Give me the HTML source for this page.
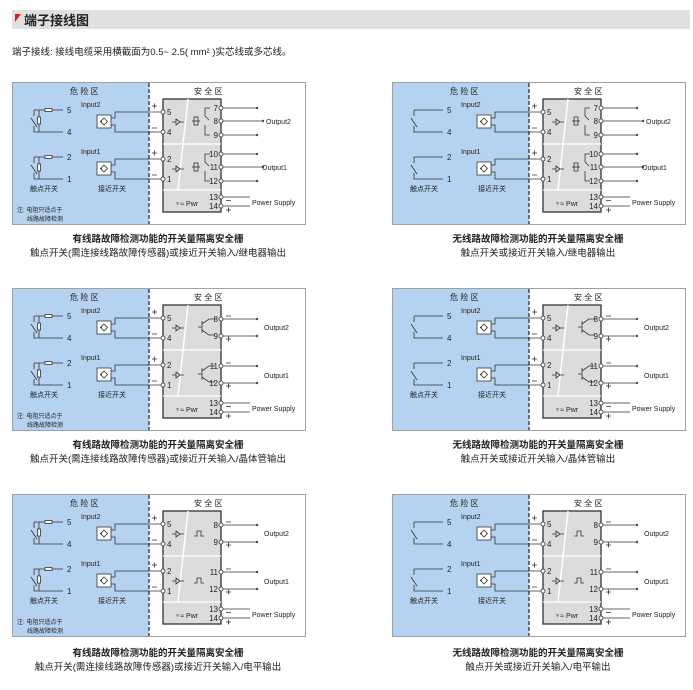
<!DOCTYPE html>
<html><head><meta charset="utf-8"><style>
html,body{margin:0;padding:0;background:#fff;width:693px;height:690px;overflow:hidden}
svg{display:block}
text{font-family:"Liberation Sans","Noto Sans CJK SC",sans-serif;fill:#222}
.s{font-size:7px}
.z{font-size:8px}
.cap1{font-size:9.5px;font-weight:bold;text-anchor:middle}
.cap2{font-size:9.5px;text-anchor:middle}
.n{font-size:8px;text-anchor:end}
</style></head><body>
<svg width="693" height="690" viewBox="0 0 693 690" xmlns="http://www.w3.org/2000/svg">
<defs>
<g id="frame">
<rect x="0.5" y="0.5" width="293" height="142" fill="#fff" stroke="#a0a0a0"/>
<rect x="1" y="1" width="136" height="141" fill="#b5d3f0"/>
<line x1="137" y1="1" x2="137" y2="142" stroke="#222" stroke-width="1.2" stroke-dasharray="4,2"/>
</g>
<g id="mod" fill="none" stroke="#333" stroke-width="0.8">
<rect x="151" y="17" width="58" height="113" fill="#dcdcdc" stroke="#333" stroke-width="1.3"/>
<line x1="151" y1="62" x2="209" y2="62" stroke="#fff" stroke-width="1.2"/>
<line x1="151" y1="108" x2="209" y2="108" stroke="#fff" stroke-width="1.2"/>
<line x1="176" y1="17" x2="166" y2="108" stroke="#fff" stroke-width="1.5"/>
<path d="M99,36 H103 V30 H149 M99,43 H103 V50 H149 M99,83 H103 V77 H149 M99,90 H103 V97 H149"/>
<circle cx="151" cy="30" r="2" fill="#fff"/><circle cx="151" cy="50" r="2" fill="#fff"/>
<circle cx="151" cy="77" r="2" fill="#fff"/><circle cx="151" cy="97" r="2" fill="#fff"/>
<rect x="85" y="33" width="14" height="13" fill="#fff"/><path d="M88,39.5 H90 M92,36 L95.5,39.5 L92,43 L88.5,39.5 Z"/>
<rect x="85" y="80" width="14" height="13" fill="#fff"/><path d="M88,86.5 H90 M92,83 L95.5,86.5 L92,90 L88.5,86.5 Z"/>
<path d="M22,28 H51 M22,28 V34 M19,36 L25,45 M22,44 V50 H51"/>
<path d="M22,75 H51 M22,75 V81 M19,83 L25,92 M22,91 V97 H51"/>
<path d="M140,24 h5 M142.5,21.5 v5 M140,46 h5 M140,71 h5 M142.5,68.5 v5 M140,93 h5"/>
<path d="M160,40 h4 M164,37 l4,3 l-4,3 z M168,40 h4 M160,87 h4 M164,84 l4,3 l-4,3 z M168,87 h4"/>
<circle cx="209" cy="115" r="2" fill="#fff"/><circle cx="209" cy="124" r="2" fill="#fff"/>
<path d="M211,115 H238 M211,124 H238 M214,118.5 h5 M214,128 h5 M216.5,125.5 v5"/>
</g>
<g id="res" fill="#fff" stroke="#333" stroke-width="0.8">
<path d="M27,28 V35 M27,42 V50 M27,75 V82 M27,89 V97" fill="none"/>
<rect x="25.5" y="35" width="3" height="7"/><rect x="33" y="26.5" width="7" height="3"/>
<rect x="25.5" y="82" width="3" height="7"/><rect x="33" y="73.5" width="7" height="3"/>
</g>
<g id="relay" fill="none" stroke="#333" stroke-width="0.8">
<path d="M211,26 H244 M211,39 H250 M211,53 H244 M211,72 H244 M211,85 H250 M211,99 H244"/>
<circle cx="209" cy="26" r="2" fill="#fff"/><circle cx="209" cy="39" r="2" fill="#fff"/><circle cx="209" cy="53" r="2" fill="#fff"/>
<circle cx="209" cy="72" r="2" fill="#fff"/><circle cx="209" cy="85" r="2" fill="#fff"/><circle cx="209" cy="99" r="2" fill="#fff"/>
<circle cx="245" cy="26" r="0.8"/><circle cx="251" cy="39" r="0.8"/><circle cx="245" cy="53" r="0.8"/>
<circle cx="245" cy="72" r="0.8"/><circle cx="251" cy="85" r="0.8"/><circle cx="245" cy="99" r="0.8"/>
<rect x="182" y="35" width="4" height="8"/><path d="M180,39 h8"/>
<path d="M198,26 H193 V34 L197,38 M193,43 V53 H198"/>
<rect x="182" y="81" width="4" height="8"/><path d="M180,85 h8"/>
<path d="M198,72 H193 V80 L197,84 M193,89 V99 H198"/>
</g>
<g id="outs" fill="none" stroke="#333" stroke-width="0.8">
<path d="M211,31 H244 M211,48 H244 M211,78 H244 M211,95 H244"/>
<circle cx="209" cy="31" r="2" fill="#fff"/><circle cx="209" cy="48" r="2" fill="#fff"/>
<circle cx="209" cy="78" r="2" fill="#fff"/><circle cx="209" cy="95" r="2" fill="#fff"/>
<circle cx="245" cy="31" r="0.8"/><circle cx="245" cy="48" r="0.8"/><circle cx="245" cy="78" r="0.8"/><circle cx="245" cy="95" r="0.8"/>
<path d="M214,28 h5 M214,51 h5 M216.5,48.5 v5 M214,75 h5 M214,98 h5 M216.5,95.5 v5"/>
</g>
<g id="trans" fill="none" stroke="#333" stroke-width="0.8">
<path d="M190,33 V45 M190,39 H186 M190,36 L197,31 H203 M190,42 L197,47 H203"/>
<path d="M190,80 V92 M190,86 H186 M190,83 L197,78 H203 M190,89 L197,94 H203"/>
</g>
<g id="lvl" fill="none" stroke="#333" stroke-width="0.8">
<path d="M182,42 H185 V37 H189 V42 H192 M182,89 H185 V84 H189 V89 H192"/>
</g>
</defs>

<rect x="12" y="10" width="678" height="19" fill="#e0e0e0"/>
<polygon points="15,14 21,14 15,22" fill="#e02020"/>
<text x="24" y="25" style="font-size:13px;font-weight:bold">端子接线图</text>
<text x="12" y="55" style="font-size:9.5px">端子接线: 接线电缆采用横截面为0.5~ 2.5( mm² )实芯线或多芯线。</text>

<!-- Panel 1 -->
<g transform="translate(12,82)">
<use href="#frame"/><use href="#mod"/><use href="#res"/><use href="#relay"/>
<text class="z" x="58" y="12">危 险 区</text><text class="z" x="182" y="12">安 全 区</text>
<text class="s" x="69" y="25">Input2</text><text class="s" x="69" y="72">Input1</text>
<text class="z" x="55" y="31">5</text><text class="z" x="55" y="53">4</text><text class="z" x="55" y="78">2</text><text class="z" x="55" y="100">1</text>
<text class="z" x="155" y="33">5</text><text class="z" x="155" y="53">4</text><text class="z" x="155" y="80">2</text><text class="z" x="155" y="100">1</text>
<text class="n" x="206" y="29">7</text><text class="n" x="206" y="42">8</text><text class="n" x="206" y="56">9</text>
<text class="n" x="206" y="75">10</text><text class="n" x="206" y="88">11</text><text class="n" x="206" y="102">12</text>
<text class="n" x="206" y="118">13</text><text class="n" x="206" y="127">14</text>
<text class="s" x="163" y="124">♆≈ Pwr</text>
<text class="s" x="254" y="42">Output2</text><text class="s" x="250" y="88">Output1</text>
<text class="s" x="240" y="123">Power Supply</text>
<text class="s" x="18" y="109">触点开关</text><text class="s" x="86" y="109">接近开关</text>
<text style="font-size:6px" x="5" y="130">注: 电阻只适点于</text><text style="font-size:6px" x="15" y="139">线路故障检测</text>
</g>
<text class="cap1" x="158" y="242">有线路故障检测功能的开关量隔离安全栅</text>
<text class="cap2" x="158" y="256">触点开关(需连接线路故障传感器)或接近开关输入/继电器输出</text>

<!-- Panel 2 -->
<g transform="translate(392,82)">
<use href="#frame"/><use href="#mod"/><use href="#relay"/>
<text class="z" x="58" y="12">危 险 区</text><text class="z" x="182" y="12">安 全 区</text>
<text class="s" x="69" y="25">Input2</text><text class="s" x="69" y="72">Input1</text>
<text class="z" x="55" y="31">5</text><text class="z" x="55" y="53">4</text><text class="z" x="55" y="78">2</text><text class="z" x="55" y="100">1</text>
<text class="z" x="155" y="33">5</text><text class="z" x="155" y="53">4</text><text class="z" x="155" y="80">2</text><text class="z" x="155" y="100">1</text>
<text class="n" x="206" y="29">7</text><text class="n" x="206" y="42">8</text><text class="n" x="206" y="56">9</text>
<text class="n" x="206" y="75">10</text><text class="n" x="206" y="88">11</text><text class="n" x="206" y="102">12</text>
<text class="n" x="206" y="118">13</text><text class="n" x="206" y="127">14</text>
<text class="s" x="163" y="124">♆≈ Pwr</text>
<text class="s" x="254" y="42">Output2</text><text class="s" x="250" y="88">Output1</text>
<text class="s" x="240" y="123">Power Supply</text>
<text class="s" x="18" y="109">触点开关</text><text class="s" x="86" y="109">接近开关</text>
</g>
<text class="cap1" x="538" y="242">无线路故障检测功能的开关量隔离安全栅</text>
<text class="cap2" x="538" y="256">触点开关或接近开关输入/继电器输出</text>

<!-- Panel 3 -->
<g transform="translate(12,288)">
<use href="#frame"/><use href="#mod"/><use href="#res"/><use href="#outs"/><use href="#trans"/>
<text class="z" x="58" y="12">危 险 区</text><text class="z" x="182" y="12">安 全 区</text>
<text class="s" x="69" y="25">Input2</text><text class="s" x="69" y="72">Input1</text>
<text class="z" x="55" y="31">5</text><text class="z" x="55" y="53">4</text><text class="z" x="55" y="78">2</text><text class="z" x="55" y="100">1</text>
<text class="z" x="155" y="33">5</text><text class="z" x="155" y="53">4</text><text class="z" x="155" y="80">2</text><text class="z" x="155" y="100">1</text>
<text class="n" x="206" y="34">8</text><text class="n" x="206" y="51">9</text>
<text class="n" x="206" y="81">11</text><text class="n" x="206" y="98">12</text>
<text class="n" x="206" y="118">13</text><text class="n" x="206" y="127">14</text>
<text class="s" x="163" y="124">♆≈ Pwr</text>
<text class="s" x="252" y="42">Output2</text><text class="s" x="252" y="90">Output1</text>
<text class="s" x="240" y="123">Power Supply</text>
<text class="s" x="18" y="109">触点开关</text><text class="s" x="86" y="109">接近开关</text>
<text style="font-size:6px" x="5" y="130">注: 电阻只适点于</text><text style="font-size:6px" x="15" y="139">线路故障检测</text>
</g>
<text class="cap1" x="158" y="448">有线路故障检测功能的开关量隔离安全栅</text>
<text class="cap2" x="158" y="462">触点开关(需连接线路故障传感器)或接近开关输入/晶体管输出</text>

<!-- Panel 4 -->
<g transform="translate(392,288)">
<use href="#frame"/><use href="#mod"/><use href="#outs"/><use href="#trans"/>
<text class="z" x="58" y="12">危 险 区</text><text class="z" x="182" y="12">安 全 区</text>
<text class="s" x="69" y="25">Input2</text><text class="s" x="69" y="72">Input1</text>
<text class="z" x="55" y="31">5</text><text class="z" x="55" y="53">4</text><text class="z" x="55" y="78">2</text><text class="z" x="55" y="100">1</text>
<text class="z" x="155" y="33">5</text><text class="z" x="155" y="53">4</text><text class="z" x="155" y="80">2</text><text class="z" x="155" y="100">1</text>
<text class="n" x="206" y="34">8</text><text class="n" x="206" y="51">9</text>
<text class="n" x="206" y="81">11</text><text class="n" x="206" y="98">12</text>
<text class="n" x="206" y="118">13</text><text class="n" x="206" y="127">14</text>
<text class="s" x="163" y="124">♆≈ Pwr</text>
<text class="s" x="252" y="42">Output2</text><text class="s" x="252" y="90">Output1</text>
<text class="s" x="240" y="123">Power Supply</text>
<text class="s" x="18" y="109">触点开关</text><text class="s" x="86" y="109">接近开关</text>
</g>
<text class="cap1" x="538" y="448">无线路故障检测功能的开关量隔离安全栅</text>
<text class="cap2" x="538" y="462">触点开关或接近开关输入/晶体管输出</text>

<!-- Panel 5 -->
<g transform="translate(12,494)">
<use href="#frame"/><use href="#mod"/><use href="#res"/><use href="#outs"/><use href="#lvl"/>
<text class="z" x="58" y="12">危 险 区</text><text class="z" x="182" y="12">安 全 区</text>
<text class="s" x="69" y="25">Input2</text><text class="s" x="69" y="72">Input1</text>
<text class="z" x="55" y="31">5</text><text class="z" x="55" y="53">4</text><text class="z" x="55" y="78">2</text><text class="z" x="55" y="100">1</text>
<text class="z" x="155" y="33">5</text><text class="z" x="155" y="53">4</text><text class="z" x="155" y="80">2</text><text class="z" x="155" y="100">1</text>
<text class="n" x="206" y="34">8</text><text class="n" x="206" y="51">9</text>
<text class="n" x="206" y="81">11</text><text class="n" x="206" y="98">12</text>
<text class="n" x="206" y="118">13</text><text class="n" x="206" y="127">14</text>
<text class="s" x="163" y="124">♆≈ Pwr</text>
<text class="s" x="252" y="42">Output2</text><text class="s" x="252" y="90">Output1</text>
<text class="s" x="240" y="123">Power Supply</text>
<text class="s" x="18" y="109">触点开关</text><text class="s" x="86" y="109">接近开关</text>
<text style="font-size:6px" x="5" y="130">注: 电阻只适点于</text><text style="font-size:6px" x="15" y="139">线路故障检测</text>
</g>
<text class="cap1" x="158" y="656">有线路故障检测功能的开关量隔离安全栅</text>
<text class="cap2" x="158" y="670">触点开关(需连接线路故障传感器)或接近开关输入/电平输出</text>

<!-- Panel 6 -->
<g transform="translate(392,494)">
<use href="#frame"/><use href="#mod"/><use href="#outs"/><use href="#lvl"/>
<text class="z" x="58" y="12">危 险 区</text><text class="z" x="182" y="12">安 全 区</text>
<text class="s" x="69" y="25">Input2</text><text class="s" x="69" y="72">Input1</text>
<text class="z" x="55" y="31">5</text><text class="z" x="55" y="53">4</text><text class="z" x="55" y="78">2</text><text class="z" x="55" y="100">1</text>
<text class="z" x="155" y="33">5</text><text class="z" x="155" y="53">4</text><text class="z" x="155" y="80">2</text><text class="z" x="155" y="100">1</text>
<text class="n" x="206" y="34">8</text><text class="n" x="206" y="51">9</text>
<text class="n" x="206" y="81">11</text><text class="n" x="206" y="98">12</text>
<text class="n" x="206" y="118">13</text><text class="n" x="206" y="127">14</text>
<text class="s" x="163" y="124">♆≈ Pwr</text>
<text class="s" x="252" y="42">Output2</text><text class="s" x="252" y="90">Output1</text>
<text class="s" x="240" y="123">Power Supply</text>
<text class="s" x="18" y="109">触点开关</text><text class="s" x="86" y="109">接近开关</text>
</g>
<text class="cap1" x="538" y="656">无线路故障检测功能的开关量隔离安全栅</text>
<text class="cap2" x="538" y="670">触点开关或接近开关输入/电平输出</text>
</svg>
</body></html>
